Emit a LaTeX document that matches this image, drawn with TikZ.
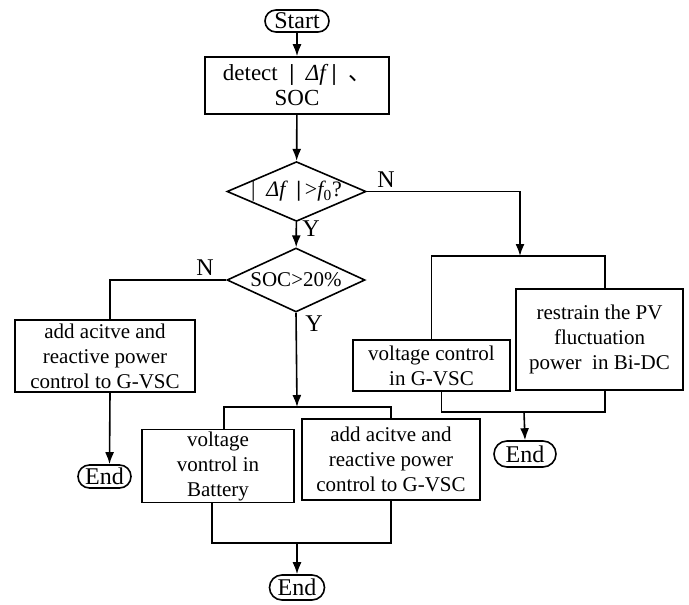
\documentclass[tikz,border=0pt]{standalone}
\usepackage{fontspec}
\setmainfont{Liberation Serif}
\newfontfamily\cjk{Noto Sans CJK SC}
\usetikzlibrary{shapes.geometric,shapes.misc,arrows.meta,calc}
\tikzset{every node/.style={font=\fontsize{10.5}{12.5}\selectfont}}
\tikzset{block/.style={draw, line width=0.8pt, rectangle, align=center, inner sep=1pt}}
\tikzset{term/.style={draw, line width=0.8pt, rounded rectangle, inner sep=1pt, font=\fontsize{12}{14}\selectfont}}
\tikzset{decision/.style={draw, line width=0.8pt, diamond, inner sep=0pt, aspect=2.3}}
\tikzset{link/.style={line width=0.8pt}}
\tikzset{flow/.style={line width=0.8pt, -{Latex[length=6pt,width=4.5pt]}}}
\begin{document}
\begin{tikzpicture}[x=0.5pt,y=-0.5pt]
\useasboundingbox (0,0) rectangle (689,604);
%main column
\node (start) at (297,21)[term, minimum width=34pt, minimum height=11pt]{Start};
\node (detect) at (297,85.5)[block, minimum width=92pt, minimum height=28.5pt, inner sep=0pt, font=\fontsize{11.5}{12.5}\selectfont]{detect \ {\bfseries|}\ \ {\itshape Δf}\ {\bfseries|}\ \ {\cjk 、}\\SOC};
\node (d1) at (296.5,191.5)[decision, minimum width=69.5pt, minimum height=29.5pt, font=\fontsize{11}{13}\selectfont]{|\ \ {\itshape Δf}\ \ {\bfseries|}\,>{\itshape f}\textsubscript{0}?};
\node (d2) at (296,280)[decision, minimum width=69pt, minimum height=32pt]{SOC>20\%};
%left branch
\node (ag1) at (105,356)[block, minimum width=90pt, minimum height=36pt]{add acitve and\\reactive power\\control to G-VSC};
\node (end1) at (104.5,476.5)[term, minimum width=28.5pt, minimum height=11.5pt]{End};
%middle branch
\node (vb) at (218,466)[block, minimum width=76pt, minimum height=34pt]{voltage\\vontrol in\\Battery};
\node (ag2) at (391,459.5)[block, minimum width=89pt, minimum height=40.5pt]{add acitve and\\reactive power\\control to G-VSC};
\node (end2) at (297,587.5)[term, minimum width=29.5pt, minimum height=12.5pt]{End};
%right branch
\node (vcg) at (431.5,365.5)[block, minimum width=78.5pt, minimum height=25.5pt]{voltage control\\in G-VSC};
\node (rpv) at (599.5,339.5)[block, minimum width=83.5pt, minimum height=50.5pt]{restrain the PV\\fluctuation\\power\ \ in Bi-DC};
\node (end3) at (525,454)[term, minimum width=33pt, minimum height=13pt]{End};
%labels
\node (n1) at (386,180)[font=\fontsize{12}{14}\selectfont]{N};
\node (y1) at (311,229)[font=\fontsize{12}{14}\selectfont]{Y};
\node (n2) at (205,268)[font=\fontsize{12}{14}\selectfont]{N};
\node (y2) at (314,324)[font=\fontsize{12}{14}\selectfont]{Y};
%junctions
\coordinate (rtop) at (520,256);
\coordinate (rbot) at (524,412);
\coordinate (mtop) at (297,407);
\coordinate (mbot) at (297,543);

\draw[flow] (start)--(detect);
\draw[flow] (detect)--(d1);
\draw[flow] (d1)--(d2);
\draw[flow] (d1.east) -| (rtop);
\draw[link] (vcg.north) |- (rtop) -| ([xshift=2.75pt]rpv.north);
\draw[link] ([xshift=5pt]vcg.south) |- (rbot) -| ([xshift=2.75pt]rpv.south);
\draw[flow] (rbot)--(end3.north);
\draw[flow] (d2.south)--(mtop);
\draw[link] ([xshift=3pt]vb.north) |- (mtop) -| (ag2.north);
\draw[link] ([xshift=-3pt]vb.south) |- (mbot) -| (ag2.south);
\draw[flow] (mbot)--(end2.north);
\draw[link] (d2.west) -| ([xshift=2.5pt]ag1.north);
\draw[flow] ([xshift=2.5pt]ag1.south)--([xshift=2.5pt]end1.north);
\end{tikzpicture}
\end{document}
